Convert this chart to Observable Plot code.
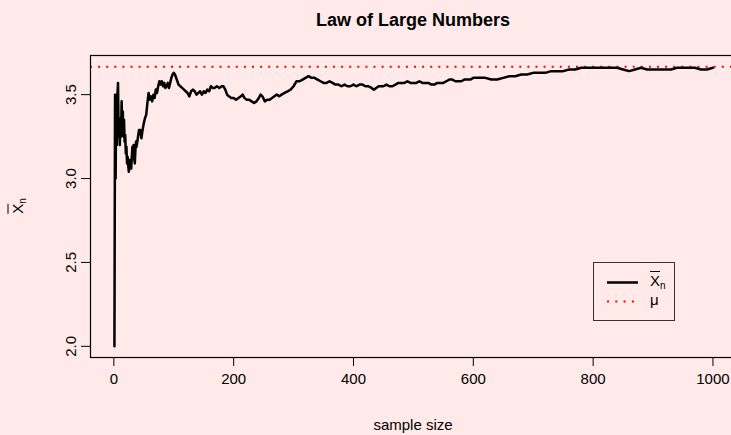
<!DOCTYPE html>
<html>
<head>
<meta charset="utf-8">
<script src="https://cdn.jsdelivr.net/npm/d3@7"></script>
<script src="https://cdn.jsdelivr.net/npm/@observablehq/plot@0.6"></script>
<style>
  html, body { margin: 0; padding: 0; background: #FFE9E9; }
  #wrap { position: relative; width: 731px; height: 435px; overflow: hidden; background: #FFE9E9;
          font-family: "Liberation Sans", Arial, Helvetica, sans-serif; color: #000; }
  #wrap svg.plot { position: absolute; left: 0; top: 0; max-width: none !important; }
  .title { position: absolute; left: 0; top: 10px; width: 826px; text-align: center; font-weight: bold; font-size: 18px; line-height: 20px; }
  .xlab { position: absolute; left: 0; top: 416px; width: 826px; text-align: center; font-size: 15px; line-height: 18px; }
  .ylab { position: absolute; left: 20px; top: 206px; font-size: 15px; line-height: 18px; white-space: nowrap;
          transform: translate(-50%, -50%) rotate(-90deg); }
  .ov { text-decoration: overline; }
  sub { font-size: 10px; vertical-align: -3px; }
  .legend { position: absolute; left: 593px; top: 262px; width: 80px; height: 57px; border: 1px solid #333; }
  .legend svg { position: absolute; left: 0; top: 0; }
  .lt { position: absolute; left: 56px; font-size: 15px; line-height: 16px; }
</style>
</head>
<body>
<div id="wrap">
  <div class="title">Law of Large Numbers</div>
  <div class="xlab">sample size</div>
  <div class="ylab"><span class="ov">X</span><sub>n</sub></div>
</div>
<script>
// sample size (n) and running mean
const sampleSize = [1,2,3,4,5,6,7,8,9,10,11,12,13,14,15,16,17,18,19,20,21,22,23,24,25,26,27,28,29,30,31,32,33,34,35,36,37,38,40,42,44,46,48,50,52,54,56,58,60,62,64,66,68,70,72,74,76,78,80,82,84,86,88,90,92,94,96,98,100,102,105,108,111,114,117,120,123,126,129,132,135,138,141,144,147,150,153,156,159,162,165,168,172,176,180,183,186,189,192,196,200,204,208,212,215,218,222,226,230,234,238,242,245,248,252,256,260,264,268,272,276,280,285,290,295,300,305,310,315,320,325,330,335,340,345,350,355,360,365,370,375,380,385,390,395,400,405,410,415,420,425,430,434,438,442,446,450,455,460,465,470,475,480,485,490,495,500,505,510,515,520,525,530,535,540,545,550,555,560,565,570,575,580,585,590,595,600,610,620,630,640,650,660,670,680,690,700,710,720,730,740,750,760,770,780,790,800,810,820,830,840,850,860,870,880,890,900,910,920,930,940,950,960,970,980,990,1000];
const runningMean = [2.00,3.50,3.00,3.50,3.20,3.50,3.57,3.25,3.33,3.20,3.36,3.25,3.46,3.29,3.40,3.25,3.35,3.22,3.26,3.15,3.19,3.09,3.13,3.08,3.04,3.08,3.11,3.07,3.06,3.13,3.19,3.16,3.20,3.12,3.09,3.17,3.22,3.19,3.24,3.29,3.29,3.24,3.29,3.33,3.36,3.38,3.45,3.51,3.47,3.49,3.46,3.50,3.48,3.53,3.51,3.55,3.58,3.56,3.58,3.55,3.57,3.54,3.55,3.57,3.54,3.57,3.60,3.62,3.63,3.62,3.59,3.56,3.55,3.54,3.53,3.52,3.51,3.49,3.52,3.53,3.52,3.50,3.51,3.52,3.50,3.52,3.51,3.53,3.52,3.55,3.54,3.54,3.55,3.54,3.55,3.55,3.53,3.50,3.49,3.48,3.48,3.47,3.48,3.49,3.50,3.48,3.47,3.47,3.46,3.45,3.46,3.48,3.50,3.49,3.46,3.47,3.47,3.48,3.49,3.50,3.49,3.50,3.51,3.52,3.53,3.55,3.58,3.58,3.59,3.60,3.61,3.60,3.60,3.59,3.58,3.57,3.57,3.58,3.57,3.56,3.56,3.55,3.56,3.55,3.55,3.56,3.55,3.56,3.56,3.55,3.55,3.54,3.53,3.54,3.55,3.55,3.55,3.56,3.55,3.55,3.56,3.57,3.57,3.57,3.58,3.57,3.57,3.57,3.58,3.57,3.57,3.57,3.56,3.56,3.57,3.57,3.57,3.58,3.59,3.59,3.58,3.58,3.58,3.59,3.59,3.59,3.60,3.60,3.60,3.59,3.59,3.60,3.61,3.61,3.62,3.62,3.63,3.63,3.63,3.64,3.64,3.64,3.65,3.65,3.66,3.66,3.66,3.66,3.66,3.66,3.66,3.65,3.64,3.65,3.66,3.65,3.65,3.65,3.65,3.65,3.66,3.66,3.66,3.66,3.65,3.65,3.66,3.66];
const mu = 11 / 3;
const xTicks = [0, 200, 400, 600, 800, 1000];
const yTicks = [2.0, 2.5, 3.0, 3.5];
const xDomain = [-38.96, 1040.96];
const yDomain = [1.9333, 3.7333];

const data = sampleSize.map((n, i) => ({n, v: runningMean[i]}));

const chart = Plot.plot({
  width: 741,
  height: 435,
  marginLeft: 90,
  marginRight: 4,
  marginTop: 55,
  marginBottom: 78,
  style: {background: "transparent", fontFamily: "'Liberation Sans', Arial, sans-serif", fontSize: "15px", color: "#000", maxWidth: "none"},
  x: {domain: xDomain},
  y: {domain: yDomain},
  marks: [
    Plot.axisX({ticks: xTicks, tickSize: 9, tickPadding: 7, tickFormat: d3.format("d"), label: null, strokeWidth: 1}),
    Plot.axisY({ticks: yTicks, tickSize: 9, tickPadding: 6, tickRotate: -90, tickFormat: d3.format(".1f"), label: null, strokeWidth: 1}),
    Plot.ruleY([mu], {stroke: "#FF0000", strokeWidth: 2, strokeDasharray: "2,6.1"}),
    Plot.line(data, {x: "n", y: "v", stroke: "#000", strokeWidth: 2.5}),
    Plot.frame({stroke: "#000", strokeWidth: 1.2})
  ]
});
chart.classList.add("plot");
chart.style.maxWidth = "none";
document.getElementById("wrap").appendChild(chart);

// legend
const leg = document.createElement("div");
leg.className = "legend";
leg.innerHTML = `<svg width="80" height="57">
  <line x1="13" x2="44" y1="19.5" y2="19.5" stroke="#000" stroke-width="2.5"/>
  <line x1="13" x2="44" y1="38.5" y2="38.5" stroke="#FF0000" stroke-width="2" stroke-dasharray="2,6.3"/>
</svg>
<div class="lt" style="top:10px"><span class="ov">X</span><sub>n</sub></div>
<div class="lt" style="top:29px">μ</div>`;
document.getElementById("wrap").appendChild(leg);
</script>
</body>
</html>
